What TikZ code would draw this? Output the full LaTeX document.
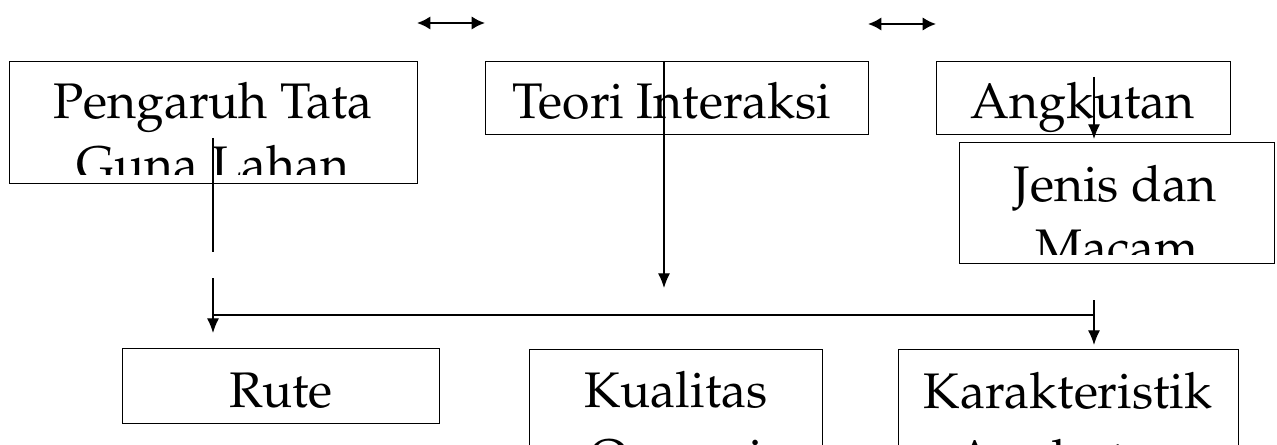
\documentclass[tikz,border=0pt]{standalone}
\usepackage[T1]{fontenc}
\usepackage{mathpazo}
\usepackage{tikz}
\usetikzlibrary{
	arrows.meta			% Latex tips on the connectors
	, calc
}

\begin{document}
\begin{tikzpicture}[
			x=0.75pt, y=-0.75pt,
			kotak/.style={
				draw=black, line width=1.1pt,
				anchor=north west,
				inner sep=0pt
			},
			teks/.style={
				anchor=base,
				inner sep=0pt,
				font=\fontsize{37.5}{45}\selectfont
			},
			garis/.style={
				line width=0.9pt
			},
			arrow/.style={
				-{Latex[length=11pt,width=9pt]},
				line width=0.9pt
			},
			dobel/.style={
				{Latex[length=10pt,width=10pt]}-{Latex[length=10pt,width=10pt]},
				line width=1.5pt
			}]

	\clip (0,0) rectangle (1277,445);

	%%% Top row
	\node [kotak, minimum width=306pt, minimum height=91.5pt] (guna) at (9,61) {};
	\node [kotak, minimum width=287.25pt, minimum height=54.75pt] (teori) at (485,61) {};
	\node [kotak, minimum width=220.5pt, minimum height=54.75pt] (angkutan) at (936,61) {};
	\node [kotak, minimum width=236.25pt, minimum height=90.75pt] (jenis) at (959,142) {};

	\node [teks] (guna1) at (213,119) {Pengaruh Tata};
	\begin{scope}
		\clip (9,61) rectangle (417,175);
		\node [teks] (guna2) at (213,182) {Guna Lahan};
	\end{scope}
	\node [teks] (teori1) at (672,119) {Teori Interaksi};
	\node [teks] (angkutan1) at (1083,119) {Angkutan};
	\node [teks] (jenis1) at (1115,202) {Jenis dan};
	\begin{scope}
		\clip (959,142) rectangle (1274,255);
		\node [teks] (jenis2) at (1117,264) {Macam};
	\end{scope}

	%%% Bottom row
	\node [kotak, minimum width=237.75pt, minimum height=56.25pt] (rute) at (122,348) {};
	\node [kotak, minimum width=219.75pt, minimum height=90.75pt] (kualitas) at (529,349) {};
	\node [kotak, minimum width=255pt, minimum height=90.75pt] (karakter) at (898,349) {};

	\node [teks] (rute1) at (281,407) {Rute};
	\node [teks] (kualitas1) at (676,407) {Kualitas};
	\node [teks] (kualitas2) at (676,474) {Operasi};
	\node [teks] (karakter1) at (1068,408) {Karakteristik};
	\node [teks] (karakter2) at (1068,475) {Angkutan};

	%%% Connectors
	\coordinate (guna-a) at (213,138);
	\coordinate (guna-b) at (213,252);
	\coordinate (guna-c) at (213,278);
	\coordinate (rute-in) at (213,333);
	\coordinate (teori-out) at (664,288);
	\coordinate (angk-a) at (1094,77);
	\coordinate (jenis-in) at (1094,139);
	\coordinate (kiri) at (213,315);
	\coordinate (kanan) at (1094,315);
	\coordinate (kar-a) at (1094,300);
	\coordinate (kar-in) at (1094,345);

	\draw [garis] (guna-a) -- (guna-b);
	\draw [arrow] (guna-c) -- (rute-in);
	\draw [arrow] (teori-out |- teori.north) -- (teori-out);
	\draw [arrow] (angk-a) -- (jenis-in);
	\draw [garis] (kiri) -- (kanan);
	\draw [arrow] (kar-a) -- (kar-in);

	%%% Loose double arrows at the top
	\coordinate (dA1) at (417,23);
	\coordinate (dA2) at (485,23);
	\coordinate (dB1) at (868,24);
	\coordinate (dB2) at (936,24);
	\draw [dobel] (dA1) -- (dA2);
	\draw [dobel] (dB1) -- (dB2);

\end{tikzpicture}
\end{document}
